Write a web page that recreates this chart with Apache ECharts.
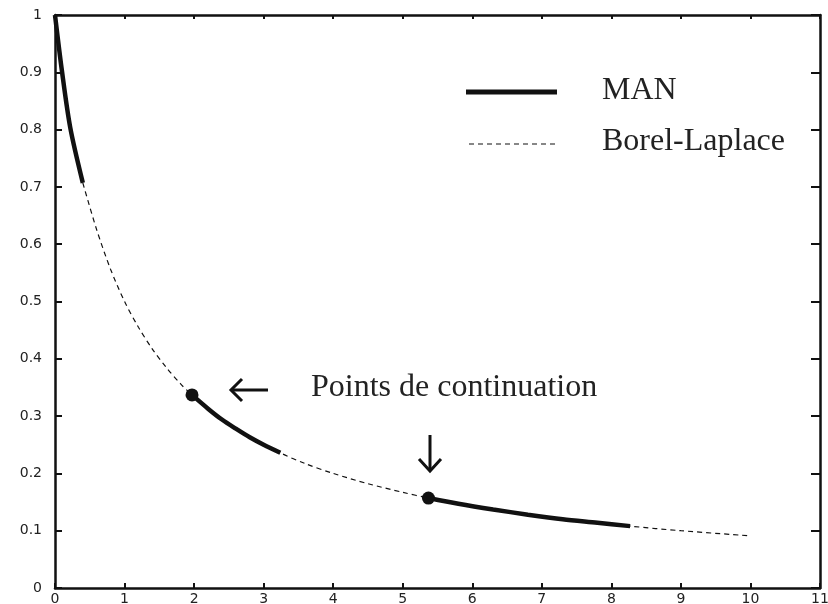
<!DOCTYPE html>
<html>
<head>
<meta charset="utf-8">
<script src="https://cdn.jsdelivr.net/npm/echarts@6/dist/echarts.min.js"></script>
<style>
  html, body { margin: 0; padding: 0; background: #fff; }
  #chart { width: 828px; height: 604px; }
</style>
</head>
<body>
<div id="chart"></div>
<script>
// valeurs
var xTicks = [0, 1, 2, 3, 4, 5, 6, 7, 8, 9, 10, 11];
var yTicks = [0, 0.1, 0.2, 0.3, 0.4, 0.5, 0.6, 0.7, 0.8, 0.9, 1];

// somme de Borel-Laplace (pointillés)
var borelX = [0.4, 0.6, 0.8, 1.0, 1.2, 1.4, 1.6, 1.8, 1.97, 2.5, 3.24, 3.6, 4.0, 4.5, 5.0, 5.37, 6, 7, 8.27, 9, 10];
var borelY = [0.707, 0.625, 0.556, 0.5, 0.455, 0.417, 0.385, 0.357, 0.337, 0.286, 0.236, 0.217, 0.2, 0.182, 0.167, 0.157, 0.143, 0.125, 0.108, 0.1, 0.091];

// MAN, trois morceaux (trait plein)
var man1X = [0, 0.1, 0.22, 0.4];
var man1Y = [1.0, 0.902, 0.803, 0.707];
var man2X = [1.97, 2.2, 2.4, 2.6, 2.8, 3.0, 3.24];
var man2Y = [0.337, 0.313, 0.294, 0.278, 0.263, 0.25, 0.236];
var man3X = [5.37, 5.8, 6.3, 6.8, 7.3, 7.8, 8.27];
var man3Y = [0.157, 0.147, 0.137, 0.128, 0.120, 0.114, 0.108];

// points de continuation
var contX = [1.97, 5.37];
var contY = [0.337, 0.157];

function pairs(xs, ys) {
  return xs.map(function (x, i) { return [x, ys[i]]; });
}

var chart = echarts.init(document.getElementById('chart'));

var labelFont = { color: '#222', fontSize: 14, fontFamily: 'DejaVu Sans' };
var axisLine = { show: true, onZero: false, lineStyle: { color: '#111', width: 2.5 } };

function manSeries(xs, ys, smooth) {
  return {
    name: 'MAN',
    type: 'line',
    data: pairs(xs, ys),
    smooth: smooth,
    showSymbol: false,
    lineStyle: { color: '#111', width: 4.5, cap: 'butt' },
    z: 3
  };
}

var option = {
  animation: false,
  grid: {
    left: 55, right: 8, top: 15, bottom: 16,
    outerBoundsMode: 'none'
  },
  xAxis: [
    {
      type: 'value', position: 'bottom',
      min: 0, max: 11, interval: 1,
      axisLine: axisLine,
      axisTick: { inside: true, length: 5, lineStyle: { color: '#111', width: 2 } },
      axisLabel: Object.assign({ margin: 4 }, labelFont),
      splitLine: { show: false }
    },
    {
      type: 'value', position: 'top',
      min: 0, max: 11, interval: 1,
      axisLine: axisLine,
      axisTick: { inside: true, length: 4, lineStyle: { color: '#111', width: 2 } },
      axisLabel: { show: false },
      splitLine: { show: false }
    }
  ],
  yAxis: [
    {
      type: 'value', position: 'left',
      min: 0, max: 1, interval: 0.1,
      axisLine: axisLine,
      axisTick: { show: true, inside: true, length: 7, lineStyle: { color: '#111', width: 2 } },
      axisLabel: Object.assign({ margin: 13 }, labelFont),
      splitLine: { show: false }
    },
    {
      type: 'value', position: 'right',
      min: 0, max: 1, interval: 0.1,
      axisLine: axisLine,
      axisTick: { show: true, inside: true, length: 9, lineStyle: { color: '#111', width: 2 } },
      axisLabel: { show: false },
      splitLine: { show: false }
    }
  ],
  series: [
    {
      name: 'Borel-Laplace',
      type: 'line',
      data: pairs(borelX, borelY),
      smooth: 0.3,
      showSymbol: false,
      lineStyle: { color: '#111', width: 1.2, type: [5, 4] },
      z: 2
    },
    manSeries(man1X, man1Y, 0.3),
    manSeries(man2X, man2Y, 0.3),
    manSeries(man3X, man3Y, 0.3),
    {
      name: 'continuation',
      type: 'scatter',
      data: pairs(contX, contY),
      symbol: 'circle',
      symbolSize: 13,
      itemStyle: { color: '#111', opacity: 1 },
      z: 4
    }
  ],
  graphic: [
    // légende
    { type: 'line', shape: { x1: 466, y1: 92, x2: 557, y2: 92 }, style: { stroke: '#111', lineWidth: 5 } },
    { type: 'text', left: 602, top: 75, style: { text: 'MAN', fontFamily: 'Liberation Serif', fontSize: 32, fill: '#222' } },
    { type: 'line', shape: { x1: 469, y1: 144, x2: 559, y2: 144 }, style: { stroke: '#111', lineWidth: 1.2, lineDash: [5, 4] } },
    { type: 'text', left: 602, top: 126, style: { text: 'Borel-Laplace', fontFamily: 'Liberation Serif', fontSize: 32, fill: '#222' } },
    // annotation
    { type: 'text', left: 311, top: 372, style: { text: 'Points de continuation', fontFamily: 'Liberation Serif', fontSize: 32, fill: '#222' } },
    { type: 'polyline', shape: { points: [[242, 379], [231, 390], [242, 401]] }, style: { stroke: '#111', lineWidth: 3, fill: null } },
    { type: 'line', shape: { x1: 232, y1: 390, x2: 268, y2: 390 }, style: { stroke: '#111', lineWidth: 3 } },
    { type: 'line', shape: { x1: 430, y1: 435, x2: 430, y2: 470 }, style: { stroke: '#111', lineWidth: 3 } },
    { type: 'polyline', shape: { points: [[419, 459], [430, 471], [441, 459]] }, style: { stroke: '#111', lineWidth: 3, fill: null } }
  ]
};

chart.setOption(option);
</script>
</body>
</html>
